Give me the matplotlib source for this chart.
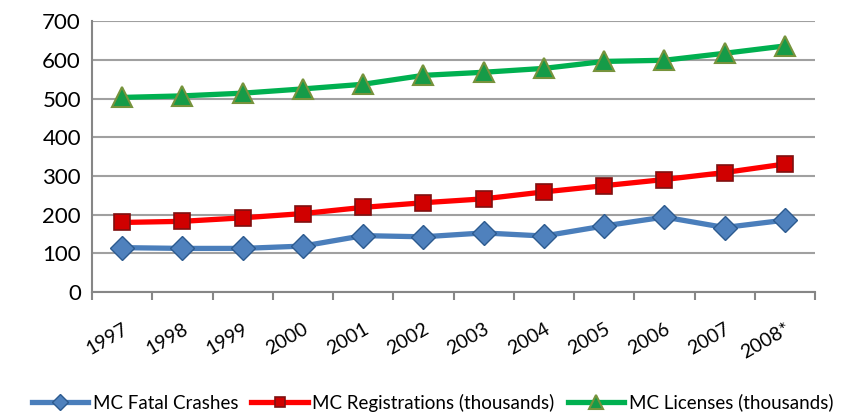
import numpy as np
import matplotlib.pyplot as plt

# datos
years = ['1997', '1998', '1999', '2000', '2001', '2002', '2003', '2004',
         '2005', '2006', '2007', '2008*']
fatal_crashes = [115, 113, 113, 119, 146, 143, 153, 145, 171, 194, 167, 186]
registrations = [180, 183, 192, 203, 219, 231, 241, 259, 275, 291, 309, 331]
licenses = [503, 507, 514, 525, 537, 560, 568, 578, 596, 599, 617, 636]

plt.rcParams['font.family'] = ['Lato', 'DejaVu Sans']

fig = plt.figure(figsize=(8.65, 4.15), dpi=100)
ax = fig.add_axes([0.1064, 0.296, 0.8358, 0.653])

x = np.arange(len(years))

ax.plot(x, fatal_crashes, color='#4A7EBB', lw=3.8, marker='D', ms=12,
        mfc='#4F81BD', mec='#2C5A8F', mew=1, label='MC Fatal Crashes', zorder=3)
ax.plot(x, registrations, color='#FF0000', lw=3.8, marker='s', ms=11,
        mfc='#D00000', mec='#7F1010', mew=1.2, label='MC Registrations (thousands)', zorder=3)
ax.plot(x, licenses, color='#00B050', lw=3.8, marker='^', ms=15,
        mfc='#169B48', mec='#77933C', mew=1.5, label='MC Licenses (thousands)', zorder=3)

ax.set_xlim(-0.5, len(years) - 0.5)
ax.set_ylim(0, 700)
ax.set_yticks(range(0, 701, 100))
ax.grid(axis='y', color='#A0A0A0', lw=1.5)
ax.set_axisbelow(True)

# marcas entre categorías, etiquetas al centro
ax.set_xticks(x)
ax.set_xticklabels(years, rotation=30, ha='right', rotation_mode='anchor', fontsize=14)
ax.set_xticks(np.arange(-0.5, len(years)), minor=True)
ax.tick_params(axis='x', which='major', length=0, pad=20)
ax.tick_params(axis='x', which='minor', length=6, width=1.5, color='#868686')
ax.tick_params(axis='y', length=0, labelsize=16, pad=8)

for side in ['top', 'right']:
    ax.spines[side].set_visible(False)
for side in ['left', 'bottom']:
    ax.spines[side].set_color('#868686')
    ax.spines[side].set_linewidth(1.5)

fig.legend(loc='lower center', bbox_to_anchor=(0.5, -0.01), ncol=3, frameon=False,
           fontsize=13.5, handlelength=3.0, handletextpad=0.25, columnspacing=0.7,
           markerscale=0.7, borderaxespad=0.2, borderpad=0.2)

fig.savefig('out.png', dpi=100)
